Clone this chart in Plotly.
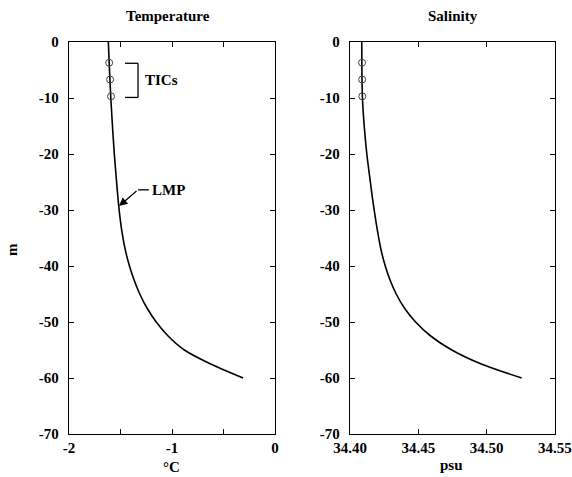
import plotly.graph_objects as go

# ---- data ----
depth = [0, -5, -10, -15, -20, -25, -28, -31, -34, -37, -40, -42.5, -45, -47.5,
         -50, -52.5, -55, -57.5, -60]
temperature = [-1.618, -1.607, -1.594, -1.578, -1.560, -1.538, -1.524, -1.507,
               -1.485, -1.455, -1.413, -1.368, -1.313, -1.243, -1.153, -1.038,
               -0.880, -0.625, -0.310]
salinity = [34.4086, 34.4087, 34.4091, 34.4104, 34.4123, 34.4149, 34.4165,
            34.4183, 34.4203, 34.4226, 34.4258, 34.4293, 34.4338, 34.4398,
            34.4480, 34.4590, 34.4745, 34.4960, 34.5256]
tic_depth = [-3.7, -6.7, -9.7]
tic_temperature = [-1.610, -1.601, -1.592]
tic_salinity = [34.4088, 34.4089, 34.4090]

temp_ticks = [-2, -1.5, -1, -0.5, 0]
temp_ticktext = ["-2", "", "-1", "", "0"]
sal_ticks = [34.40, 34.45, 34.50, 34.55]
sal_ticktext = ["34.40", "34.45", "34.50", "34.55"]
depth_ticks = [0, -10, -20, -30, -40, -50, -60, -70]
depth_ticktext = ["0", "-10", "-20", "-30", "-40", "-50", "-60", "-70"]

FONT = "Liberation Serif"
fig = go.Figure()

fig.add_trace(go.Scatter(x=temperature, y=depth, mode="lines",
                         line=dict(color="black", width=1.6, shape="spline", smoothing=0.8),
                         xaxis="x", yaxis="y", showlegend=False))
fig.add_trace(go.Scatter(x=tic_temperature, y=tic_depth, mode="markers",
                         marker=dict(symbol="circle-open", size=7,
                                     color="#444", line=dict(width=1)),
                         xaxis="x", yaxis="y", showlegend=False))
fig.add_trace(go.Scatter(x=salinity, y=depth, mode="lines",
                         line=dict(color="black", width=1.6, shape="spline", smoothing=0.8),
                         xaxis="x2", yaxis="y2", showlegend=False))
fig.add_trace(go.Scatter(x=tic_salinity, y=tic_depth, mode="markers",
                         marker=dict(symbol="circle-open", size=7,
                                     color="#444", line=dict(width=1)),
                         xaxis="x2", yaxis="y2", showlegend=False))

axis_common = dict(showline=True, linecolor="black", linewidth=1.3,
                   mirror="ticks", ticks="inside", ticklen=5, tickwidth=1,
                   tickcolor="black", showgrid=False, zeroline=False,
                   automargin=False,
                   tickfont=dict(family=FONT, size=15, color="black", weight="bold"))

fig.update_layout(
    width=572, height=477,
    margin=dict(l=69, r=17, t=42, b=43, autoexpand=False),
    plot_bgcolor="white", paper_bgcolor="white",
    font=dict(family=FONT, size=14, color="black", weight="bold"),
    xaxis=dict(domain=[0, 0.4239], range=[-2, 0], tickvals=temp_ticks,
               ticktext=temp_ticktext, anchor="y", **axis_common),
    yaxis=dict(domain=[0, 1], range=[-70, 0], tickvals=depth_ticks,
               ticktext=depth_ticktext, anchor="x", ticklabelstandoff=6,
               **axis_common),
    xaxis2=dict(domain=[0.5782, 1], range=[34.40, 34.55], tickvals=sal_ticks,
                ticktext=sal_ticktext, anchor="y2", **axis_common),
    yaxis2=dict(domain=[0, 1], range=[-70, 0], tickvals=depth_ticks,
                ticktext=depth_ticktext, anchor="x2", ticklabelstandoff=6,
                **axis_common),
)

ann_font = dict(family=FONT, size=15, color="black", weight="bold")
annotations = [
    dict(text="Temperature", x=0.2037, y=1.066, xref="paper", yref="paper",
         showarrow=False, font=ann_font, xanchor="center", yanchor="middle"),
    dict(text="Salinity", x=0.790, y=1.066, xref="paper", yref="paper",
         showarrow=False, font=ann_font, xanchor="center", yanchor="middle"),
    dict(text="m", x=-0.117, y=0.47, xref="paper", yref="paper", textangle=-90,
         showarrow=False, font=ann_font, xanchor="center", yanchor="middle"),
    dict(text="°C", x=0.2117, y=-0.084, xref="paper", yref="paper",
         showarrow=False, font=ann_font, xanchor="center", yanchor="middle"),
    dict(text="psu", x=0.788, y=-0.080, xref="paper", yref="paper",
         showarrow=False, font=ann_font, xanchor="center", yanchor="middle"),
    dict(text="TICs", x=-1.282, y=-6.8, xref="x", yref="y", showarrow=False,
         font=ann_font, xanchor="left", yanchor="middle"),
    dict(text="LMP", x=-1.215, y=-26.4, xref="x", yref="y", showarrow=False,
         font=ann_font, xanchor="left", yanchor="middle"),
    dict(text="", x=-1.515, y=-29.3, xref="x", yref="y",
         ax=-1.33, ay=-26.4, axref="x", ayref="y", showarrow=True,
         arrowhead=2, arrowsize=1.3, arrowwidth=1.3, arrowcolor="black"),
]
fig.update_layout(annotations=annotations)

shapes = [
    # TICs bracket
    dict(type="line", xref="x", yref="y", x0=-1.456, x1=-1.330, y0=-3.8, y1=-3.8,
         line=dict(color="black", width=1.3)),
    dict(type="line", xref="x", yref="y", x0=-1.330, x1=-1.330, y0=-3.8, y1=-9.9,
         line=dict(color="black", width=1.3)),
    dict(type="line", xref="x", yref="y", x0=-1.456, x1=-1.330, y0=-9.9, y1=-9.9,
         line=dict(color="black", width=1.3)),
    # LMP leader
    dict(type="line", xref="x", yref="y", x0=-1.33, x1=-1.225, y0=-26.4, y1=-26.4,
         line=dict(color="black", width=1.3)),
]
fig.update_layout(shapes=shapes)

fig.write_html("out.html", config={"displayModeBar": False},
               post_script="document.body.style.margin='0';document.body.style.overflow='hidden';")
